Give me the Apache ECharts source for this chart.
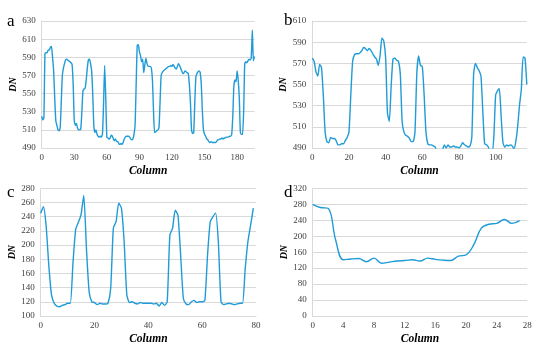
<!DOCTYPE html>
<html><head><meta charset="utf-8">
<script src="https://cdn.jsdelivr.net/npm/echarts@6/dist/echarts.min.js"></script>
<style>html,body{margin:0;padding:0;background:#fff}#c{width:550px;height:361px}</style>
</head><body><div id="c"></div>
<script>
var aVals=[525,521,523,594,595,595,598,598,601,602,
590,575,545,520,515,510,509,512,540,570,
578,583,587,588,587,586,585,584,582,560,
520,515,517,512,510,510,511,530,553,555,
556,565,578,587,588,583,575,550,515,507,
510,505,503,502,503,502,506,540,581,545,
502,501,500,501,504,503,500,498,500,497,
497,495,494,495,494,496,500,502,503,503,
503,502,500,499,500,505,515,560,603,604,
596,592,585,588,573,582,589,583,580,580,
580,578,565,530,507,508,509,510,512,540,
570,573,575,576,577,578,579,580,580,581,
580,582,580,578,577,580,583,581,578,575,
572,573,575,574,573,572,560,540,510,506,
507,540,568,572,574,575,573,560,530,510,
505,503,500,499,497,496,497,496,496,496,
496,497,499,499,500,500,501,500,501,501,
502,502,502,503,503,505,525,558,565,563,
575,565,545,507,505,505,530,583,585,584,
586,588,587,589,620,586,591];
var bVals=[575,572,562,558,569,566,540,505,496,495,
500,499,499,497,493,493,494,494,497,500,
505,540,572,578,579,579,580,582,585,584,
582,584,582,579,576,574,568,578,594,591,
575,523,515,548,574,575,573,572,560,515,
505,502,501,499,496,496,505,560,577,568,
567,540,505,494,493,493,492,491,485,480,
485,488,493,490,493,491,491,492,491,491,
490,492,495,493,492,491,492,500,560,570,
566,563,558,525,494,493,491,486,485,500,
540,544,546,520,495,491,493,492,493,492,
489,496,510,530,545,576,575,550];
var cVals=[245,254,228,172,130,118,114,113,115,116,
118,118,175,222,232,243,270,195,134,120,
119,116,118,117,117,118,139,224,233,259,
252,205,130,119,120,118,117,119,118,118,
118,118,117,118,114,119,115,120,214,224,
249,242,186,125,117,116,120,122,119,120,
120,122,186,233,240,245,205,120,116,117,
118,117,116,117,118,118,167,205,228,252];
var dVals=[280,272,270,190,141,143,144,136,145,132,
135,138,139,141,138,145,142,140,139,150,
153,178,220,230,232,242,232,239];
var panelLetters=['a','b','c','d'];
var xTitle='Column', yTitle='DN';

var aCats=aVals.map(function(_,i){return String(i);});
var bCats=bVals.map(function(_,i){return String(i);});
var cPts=cVals.map(function(v,i){return [i,v];});
var dPts=dVals.map(function(v,i){return [i,v];});

var serif='"Liberation Serif","Times New Roman",serif';
var lab={fontFamily:serif,fontSize:9,color:'#404040'};
var lineColor='#1f9bd7';
function xname(){return {name:xTitle,nameLocation:'middle',nameGap:17,nameTextStyle:{fontFamily:serif,fontSize:11.5,fontWeight:'bold',fontStyle:'italic',color:'#000'}};}
function yname(g){return {name:yTitle,nameLocation:'middle',nameGap:g,nameRotate:90,nameTextStyle:{fontFamily:serif,fontSize:10,fontWeight:'bold',fontStyle:'italic',color:'#000'}};}
var axLine={show:true,lineStyle:{color:'#d9d9d9',width:1}};
var split={show:true,lineStyle:{color:'#d9d9d9',width:1}};

function cx(i,type,extra){var o=Object.assign({gridIndex:i,type:type,axisLine:axLine,axisTick:{show:false},splitLine:{show:false},axisLabel:Object.assign({margin:5},lab)},xname());return Object.assign(o,extra);}
function cy(i,min,max,iv,g){return Object.assign({gridIndex:i,type:'value',min:min,max:max,interval:iv,axisLine:axLine,axisTick:{show:false},splitLine:split,axisLabel:Object.assign({margin:6},lab)},yname(g));}
function letter(t,l,tp){return {text:t,left:l,top:tp,padding:0,textStyle:{fontFamily:serif,fontSize:17,fontWeight:'normal',color:'#000'}};}

var chart=echarts.init(document.getElementById('c'),null,{renderer:'canvas'});
chart.setOption({
  animation:false,
  title:[
    letter(panelLetters[0],7,13),
    letter(panelLetters[1],284,12),
    letter(panelLetters[2],7,184),
    letter(panelLetters[3],284,184)
  ],
  grid:[
    {left:41.7,top:21,width:212.8,height:127},
    {left:312.3,top:21,width:214.5,height:127},
    {left:40.7,top:188.3,width:215.3,height:127.7},
    {left:312.7,top:188.3,width:214.6,height:127.7}
  ],
  xAxis:[
    cx(0,'category',{data:aCats,boundaryGap:false,axisLabel:Object.assign({margin:5,interval:29},lab)}),
    cx(1,'category',{data:bCats,boundaryGap:false,axisLabel:Object.assign({margin:5,interval:19},lab)}),
    cx(2,'value',{min:0,max:80,interval:20}),
    cx(3,'value',{min:0,max:28,interval:4})
  ],
  yAxis:[
    cy(0,490,630,20,22),
    cy(1,490,610,20,20),
    cy(2,100,280,20,21),
    cy(3,0,320,40,20)
  ],
  series:[
    {type:'line',xAxisIndex:0,yAxisIndex:0,data:aVals,showSymbol:false,smooth:0.2,lineStyle:{color:lineColor,width:1.4},clip:true},
    {type:'line',xAxisIndex:1,yAxisIndex:1,data:bVals,showSymbol:false,smooth:0.2,lineStyle:{color:lineColor,width:1.4},clip:true},
    {type:'line',xAxisIndex:2,yAxisIndex:2,data:cPts,showSymbol:false,smooth:0.2,lineStyle:{color:lineColor,width:1.4},clip:true},
    {type:'line',xAxisIndex:3,yAxisIndex:3,data:dPts,showSymbol:false,smooth:0.4,lineStyle:{color:lineColor,width:1.4},clip:true}
  ]
});
</script></body></html>
